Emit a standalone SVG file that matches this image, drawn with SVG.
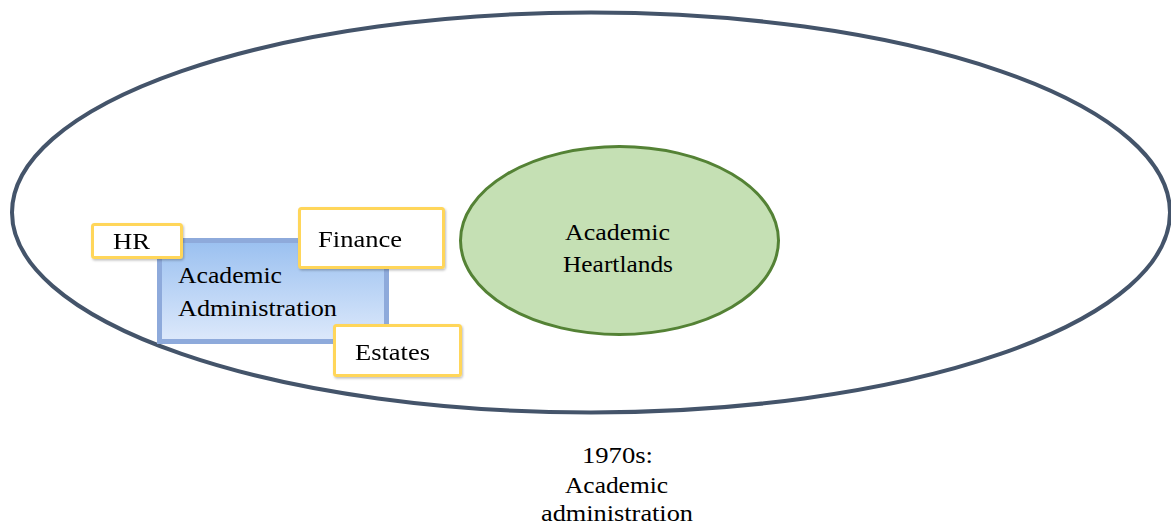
<svg xmlns="http://www.w3.org/2000/svg" width="1171" height="527" viewBox="0 0 1171 527">
<defs>
<linearGradient id="blueGrad" x1="0" y1="0" x2="0" y2="1">
<stop offset="0" stop-color="#9ac0f0"/>
<stop offset="1" stop-color="#dde9fb"/>
</linearGradient>
<filter id="shadow" x="-10%" y="-10%" width="130%" height="140%">
<feDropShadow dx="1" dy="1.5" stdDeviation="1" flood-color="#000" flood-opacity="0.25"/>
</filter>
</defs>
<style>
.lbl { font-family: "Liberation Serif", "Times New Roman", serif; font-size: 24px; fill: #000000; }
.box { fill: #ffffff; stroke: #ffd65a; stroke-width: 3; }
</style>
<rect width="1171" height="527" fill="#ffffff"/>
<g id="outer">
<ellipse cx="591" cy="212.5" rx="579" ry="200" fill="none" stroke="#44546a" stroke-width="4"/>
</g>
<g id="heartlands">
<ellipse cx="619.5" cy="240.5" rx="159" ry="94" fill="#c5e0b4" stroke="#548235" stroke-width="3"/>
<text class="lbl" x="565" y="240" textLength="105" lengthAdjust="spacingAndGlyphs">Academic</text>
<text class="lbl" x="563" y="272" textLength="110" lengthAdjust="spacingAndGlyphs">Heartlands</text>
</g>
<g id="admin">
<rect x="159.5" y="240.5" width="227" height="101" fill="url(#blueGrad)" stroke="#8eaadb" stroke-width="5"/>
<text class="lbl" x="178" y="283" textLength="104" lengthAdjust="spacingAndGlyphs">Academic</text>
<text class="lbl" x="178" y="316" textLength="159" lengthAdjust="spacingAndGlyphs">Administration</text>
</g>
<g id="hr" filter="url(#shadow)">
<rect class="box" x="92.5" y="224.5" width="89" height="33" rx="2"/>
<text class="lbl" x="113" y="249" textLength="37" lengthAdjust="spacingAndGlyphs">HR</text>
</g>
<g id="finance" filter="url(#shadow)">
<rect class="box" x="299.5" y="208.5" width="144" height="59" rx="2"/>
<text class="lbl" x="318" y="247" textLength="84" lengthAdjust="spacingAndGlyphs">Finance</text>
</g>
<g id="estates" filter="url(#shadow)">
<rect class="box" x="334.5" y="325.5" width="126" height="50" rx="2"/>
<text class="lbl" x="355" y="360" textLength="75" lengthAdjust="spacingAndGlyphs">Estates</text>
</g>
<g id="caption">
<text class="lbl" x="582" y="463" textLength="71" lengthAdjust="spacingAndGlyphs">1970s:</text>
<text class="lbl" x="565" y="493" textLength="103" lengthAdjust="spacingAndGlyphs">Academic</text>
<text class="lbl" x="541" y="521" textLength="152" lengthAdjust="spacingAndGlyphs">administration</text>
</g>
<g id="connectors"></g>
</svg>
